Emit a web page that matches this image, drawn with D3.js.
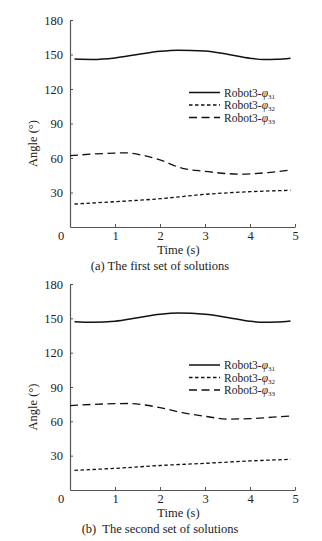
<!DOCTYPE html>
<html>
<head>
<meta charset="utf-8">
<script src="https://cdn.jsdelivr.net/npm/d3@7"></script>
<style>
  body { margin: 0; background: #fff; }
  svg text { font-family: "Liberation Serif", "Times New Roman", serif; fill: #222; }
</style>
</head>
<body>
<svg id="chart" width="322" height="541"></svg>
<script>
// time samples (s)
const timeA31 = [0.1, 0.5, 1.0, 1.5, 2.0, 2.4, 3.0, 3.5, 4.0, 4.3, 4.6, 4.9];
const phi31A  = [146, 145.7, 147, 150, 152.8, 153.8, 153, 150.2, 146.8, 145.6, 145.8, 146.7];
const timeA32 = [0.1, 1.0, 2.0, 3.0, 4.0, 4.9];
const phi32A  = [20, 22, 24.6, 28.4, 30.7, 31.9];
const timeA33 = [0, 0.5, 1.0, 1.2, 1.6, 2.0, 2.5, 3.0, 3.5, 3.8, 4.3, 4.9];
const phi33A  = [62, 63.4, 64.3, 64.5, 62.5, 58.3, 51, 48.4, 46.4, 46, 47, 49.6];

const timeB31 = [0.1, 0.5, 1.0, 1.5, 2.0, 2.4, 3.0, 3.5, 4.0, 4.3, 4.6, 4.9];
const phi31B  = [147, 146.5, 147.5, 150.5, 153.5, 154.6, 153.6, 150.8, 147.4, 146.5, 146.7, 147.7];
const timeB32 = [0.1, 1.0, 2.0, 3.0, 4.0, 4.9];
const phi32B  = [17.2, 18.9, 21.4, 23.3, 25.4, 26.8];
const timeB33 = [0, 0.5, 1.0, 1.3, 1.6, 2.0, 2.5, 3.0, 3.5, 4.0, 4.5, 4.9];
const phi33B  = [73.7, 74.8, 75.4, 75.6, 74.6, 72, 67.6, 64.4, 62, 62.3, 63.6, 64.7];

const xTicks = [1, 2, 3, 4, 5];
const yTicks = [30, 60, 90, 120, 150, 180];
const seriesNames = ["31", "32", "33"];
const dashes = [null, "3.5,2.5", "8,4.5"];

const svg = d3.select("#chart");

function drawPanel(top, bottom, caption, legendTop, data) {
    const left = 70, right = 295;
    const x = d3.scaleLinear().domain([0, 5]).range([left, right]);
    const y = d3.scaleLinear().domain([0, 180]).range([bottom, top]);
    const g = svg.append("g");

    // axes, ticks inward
    const xAxis = d3.axisBottom(x).tickValues(xTicks).tickFormat(d3.format("d"))
        .tickSize(-3).tickSizeOuter(0).tickPadding(4);
    const yAxis = d3.axisLeft(y).tickValues(yTicks).tickFormat(d3.format("d"))
        .tickSize(-3).tickSizeOuter(0).tickPadding(7);

    const gx = g.append("g").attr("transform", `translate(0,${bottom})`).call(xAxis);
    const gy = g.append("g").attr("transform", `translate(${left},0)`).call(yAxis);
    [gx, gy].forEach(a => {
        a.select(".domain").attr("stroke", "#555").attr("stroke-width", 1.2);
        a.selectAll(".tick line").attr("stroke", "#555");
        a.selectAll("text").attr("font-size", 12.5).attr("fill", "#222")
            .attr("font-family", "Liberation Serif, serif");
    });

    g.append("text").attr("x", left - 9).attr("y", bottom + 13)
        .attr("text-anchor", "middle").attr("font-size", 12.5).text("0");

    g.append("text").attr("x", x(2.5) - 4).attr("y", bottom + 27)
        .attr("text-anchor", "middle").attr("font-size", 12.5).text("Time (s)");

    g.append("text")
        .attr("transform", `translate(37,${(top + bottom) / 2 + 20}) rotate(-90)`)
        .attr("text-anchor", "middle").attr("font-size", 12.5).text("Angle (°)");

    g.append("text").attr("x", 160).attr("y", bottom + 43)
        .attr("text-anchor", "middle").attr("font-size", 12.5)
        .attr("xml:space", "preserve").text(caption);

    const line = d3.line().x(d => x(d[0])).y(d => y(d[1])).curve(d3.curveMonotoneX);

    data.forEach((s, i) => {
        g.append("path")
            .datum(d3.zip(s[0], s[1]))
            .attr("fill", "none")
            .attr("stroke", "#111")
            .attr("stroke-width", i === 0 ? 1.5 : 1.3)
            .attr("stroke-dasharray", dashes[i])
            .attr("d", line);
    });

    // legend
    seriesNames.forEach((n, i) => {
        const ly = legendTop + i * 12.5;
        g.append("line").attr("x1", 189).attr("x2", 220).attr("y1", ly).attr("y2", ly)
            .attr("stroke", "#111").attr("stroke-width", i === 0 ? 1.5 : 1.3)
            .attr("stroke-dasharray", dashes[i]);
        const t = g.append("text").attr("x", 224).attr("y", ly + 4).attr("font-size", 11.5);
        t.append("tspan").text("Robot3-");
        t.append("tspan").attr("font-style", "italic").text("φ");
        t.append("tspan").attr("font-size", 7).attr("dy", 2).text(n);
    });
}

drawPanel(20, 227, "(a) The first set of solutions", 92.5,
    [[timeA31, phi31A], [timeA32, phi32A], [timeA33, phi33A]]);
drawPanel(284, 490, "(b)  The second set of solutions", 365,
    [[timeB31, phi31B], [timeB32, phi32B], [timeB33, phi33B]]);
</script>
</body>
</html>
